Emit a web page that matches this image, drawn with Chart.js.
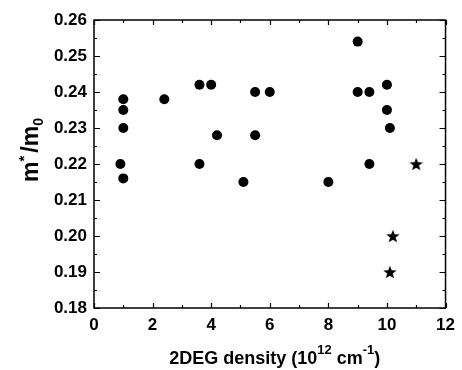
<!DOCTYPE html>
<html>
<head>
<meta charset="utf-8">
<script src="https://cdn.jsdelivr.net/npm/chart.js@4.4.0/dist/chart.umd.min.js"></script>
<style>
  html, body { margin: 0; padding: 0; background: #fff; }
  #chart { display: block; }
</style>
</head>
<body>
<canvas id="chart" width="462" height="370"></canvas>
<script>
const circleX = [0.9, 1.0, 1.0, 1.0, 1.0, 2.4, 3.6, 4.0, 3.6, 4.2, 5.5, 6.0, 5.5, 5.1, 8.0, 9.0, 9.0, 9.4, 10.0, 10.0, 10.1, 9.4];
const circleY = [0.220, 0.216, 0.230, 0.235, 0.238, 0.238, 0.242, 0.242, 0.220, 0.228, 0.240, 0.240, 0.228, 0.215, 0.215, 0.254, 0.240, 0.240, 0.242, 0.235, 0.230, 0.220];
const starX = [11.0, 10.2, 10.1];
const starY = [0.220, 0.200, 0.190];

const xTicks = [0, 2, 4, 6, 8, 10, 12];
const xMinor = [1, 3, 5, 7, 9, 11];
const yTicks = [0.18, 0.19, 0.20, 0.21, 0.22, 0.23, 0.24, 0.25, 0.26];
const yMinor = [0.185, 0.195, 0.205, 0.215, 0.225, 0.235, 0.245, 0.255];

const FONT = 'Liberation Sans, Arial, sans-serif';

// filled five point star for the second series
const makeStar = (r) => {
  const c = document.createElement('canvas');
  const s = Math.ceil(r * 2) + 2;
  c.width = s; c.height = s;
  const g = c.getContext('2d');
  g.translate(s / 2, s / 2 + r * 0.1);
  g.beginPath();
  for (let i = 0; i < 10; i++) {
    const rad = i % 2 === 0 ? r : r * 0.42;
    const a = -Math.PI / 2 + i * Math.PI / 5;
    g.lineTo(rad * Math.cos(a), rad * Math.sin(a));
  }
  g.closePath();
  g.fillStyle = '#000';
  g.fill();
  return c;
};

const toPts = (xs, ys) => xs.map((x, i) => ({ x, y: ys[i] }));

// box, inward ticks and the axis titles with super/subscripts
const frame = {
  id: 'frame',
  afterDraw(chart) {
    const { ctx, chartArea: a, scales: { x, y } } = chart;
    ctx.save();
    ctx.strokeStyle = '#000';
    ctx.lineWidth = 1.5;
    ctx.strokeRect(a.left, a.top, a.right - a.left, a.bottom - a.top);

    ctx.lineWidth = 1.2;
    ctx.beginPath();
    const xt = (v, len) => {
      const px = Math.round(x.getPixelForValue(v)) + 0.5;
      ctx.moveTo(px, a.bottom); ctx.lineTo(px, a.bottom - len);
      ctx.moveTo(px, a.top); ctx.lineTo(px, a.top + len);
    };
    const yt = (v, len) => {
      const py = Math.round(y.getPixelForValue(v)) + 0.5;
      ctx.moveTo(a.left, py); ctx.lineTo(a.left + len, py);
      ctx.moveTo(a.right, py); ctx.lineTo(a.right - len, py);
    };
    xTicks.forEach(v => xt(v, 5));
    xMinor.forEach(v => xt(v, 3));
    yTicks.forEach(v => yt(v, 6));
    yMinor.forEach(v => yt(v, 3));
    ctx.stroke();

    ctx.fillStyle = '#000';
    ctx.textBaseline = 'alphabetic';
    ctx.textAlign = 'left';

    // x title
    const parts = [
      { t: '2DEG density (10', f: 18, dy: 0 },
      { t: '12', f: 13, dy: -10 },
      { t: ' cm', f: 18, dy: 0 },
      { t: '-1', f: 13, dy: -10 },
      { t: ')', f: 18, dy: 0 }
    ];
    let total = 0;
    parts.forEach(p => { ctx.font = `bold ${p.f}px ${FONT}`; p.w = ctx.measureText(p.t).width; total += p.w; });
    let cx = (a.left + a.right) / 2 + 5 - total / 2;
    const base = 364;
    parts.forEach(p => {
      ctx.font = `bold ${p.f}px ${FONT}`;
      ctx.fillText(p.t, cx, base + p.dy);
      cx += p.w;
    });

    // y title, rotated
    ctx.translate(38, 182);
    ctx.rotate(-Math.PI / 2);
    const yparts = [
      { t: 'm', f: 23, dy: 0, gap: 0 },
      { t: '*', f: 15, dy: -9, gap: 3 },
      { t: '/m', f: 23, dy: 0, gap: 0 },
      { t: '0', f: 14, dy: 5, gap: 0 }
    ];
    let tx = 0;
    yparts.forEach(p => {
      ctx.font = `bold ${p.f}px ${FONT}`;
      ctx.fillText(p.t, tx, p.dy);
      tx += ctx.measureText(p.t).width + p.gap;
    });
    ctx.restore();
  }
};

const tickFont = { family: FONT, weight: 'bold', size: 17 };

new Chart(document.getElementById('chart'), {
  type: 'scatter',
  data: {
    datasets: [
      { label: 'circles', data: toPts(circleX, circleY), pointStyle: 'circle', pointRadius: 5, backgroundColor: '#000', borderColor: '#000', borderWidth: 0 },
      { label: 'stars', data: toPts(starX, starY), pointStyle: makeStar(7), pointRadius: 7, backgroundColor: '#000', borderColor: '#000' }
    ]
  },
  options: {
    responsive: false,
    animation: false,
    devicePixelRatio: 1,
    layout: { padding: { top: 20, right: 11, left: 0, bottom: 0 } },
    plugins: { legend: { display: false }, tooltip: { enabled: false } },
    scales: {
      x: {
        type: 'linear', min: 0, max: 12,
        afterBuildTicks: s => { s.ticks = xTicks.map(v => ({ value: v })); },
        afterFit: s => { s.height = 62; },
        grid: { display: false, drawTicks: false },
        border: { display: false },
        ticks: { padding: 7, color: '#000', font: tickFont, maxRotation: 0, autoSkip: false, callback: v => String(v) }
      },
      y: {
        type: 'linear', min: 0.18, max: 0.26,
        afterBuildTicks: s => { s.ticks = yTicks.map(v => ({ value: v })); },
        afterFit: s => { s.width = 94; },
        grid: { display: false, drawTicks: false },
        border: { display: false },
        ticks: { padding: 7, color: '#000', font: tickFont, autoSkip: false, callback: v => v.toFixed(2) }
      }
    }
  },
  plugins: [frame]
});
</script>
</body>
</html>
